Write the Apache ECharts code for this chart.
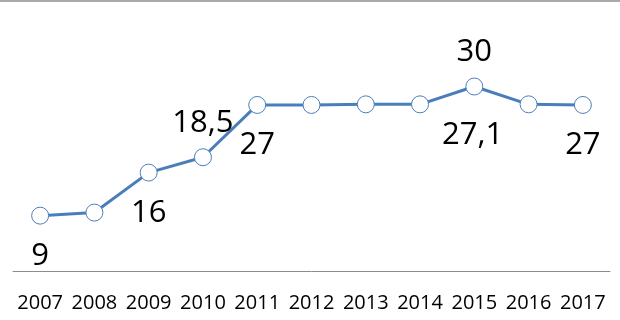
<!DOCTYPE html>
<html>
<head>
<meta charset="utf-8">
<style>html,body{margin:0;padding:0;background:#fff;}#c{width:620px;height:320px;}</style>
<script src="https://cdn.jsdelivr.net/npm/echarts@6/dist/echarts.min.js"></script>
</head>
<body>
<div id="c"></div>
<script>
var categories = ['2007','2008','2009','2010','2011','2012','2013','2014','2015','2016','2017'];
var values = [9, 9.5, 16, 18.5, 27, 27, 27.1, 27.1, 30, 27.1, 27];
// labels shown: index -> placement
var labelIdx = [0, 2, 3, 4, 8, 9, 10];
var labelPos = ['bottom','bottom','top','bottom','top','bottom','bottom'];

var chart = echarts.init(document.getElementById('c'));
var FONT = '"Open Sans", "Liberation Sans", sans-serif';
var data = values.map(function (v, i) {
  var k = labelIdx.indexOf(i);
  if (k < 0) return { value: v, label: { show: false } };
  var pos = labelPos[k];
  var lab = {
    show: true,
    position: pos,
    distance: pos === 'top' ? 10 : 16,
    formatter: function (p) { return String(p.value).replace('.', ','); }
  };
  if (i === 9) { lab.offset = [-56, -10]; }
  return { value: v, label: lab };
});
chart.setOption({
  animation: false,
  graphic: [{
    type: 'line', shape: { x1: 0, y1: 1, x2: 620, y2: 1 },
    style: { stroke: '#8c8c8c', lineWidth: 1.5 }
  }],
  grid: { left: 13, right: 10, top: 25, bottom: 49 },
  xAxis: {
    type: 'category',
    data: categories,
    boundaryGap: true,
    axisLine: { lineStyle: { color: '#8c8c8c', width: 1 } },
    axisTick: { show: false },
    axisLabel: { color: '#000', fontSize: 20, fontFamily: FONT, margin: 22, interval: 0 }
  },
  yAxis: {
    type: 'value', min: 0, max: 40, show: false,
    splitLine: { show: false }
  },
  series: [{
    type: 'line',
    data: data,
    symbol: 'circle',
    symbolSize: 17,
    lineStyle: { color: '#4a7ebb', width: 3 },
    itemStyle: { color: '#fff', borderColor: '#4a7ebb', borderWidth: 1 },
    label: { color: '#000', fontSize: 31, fontFamily: FONT },
    z: 2
  }]
});
</script>
</body>
</html>
